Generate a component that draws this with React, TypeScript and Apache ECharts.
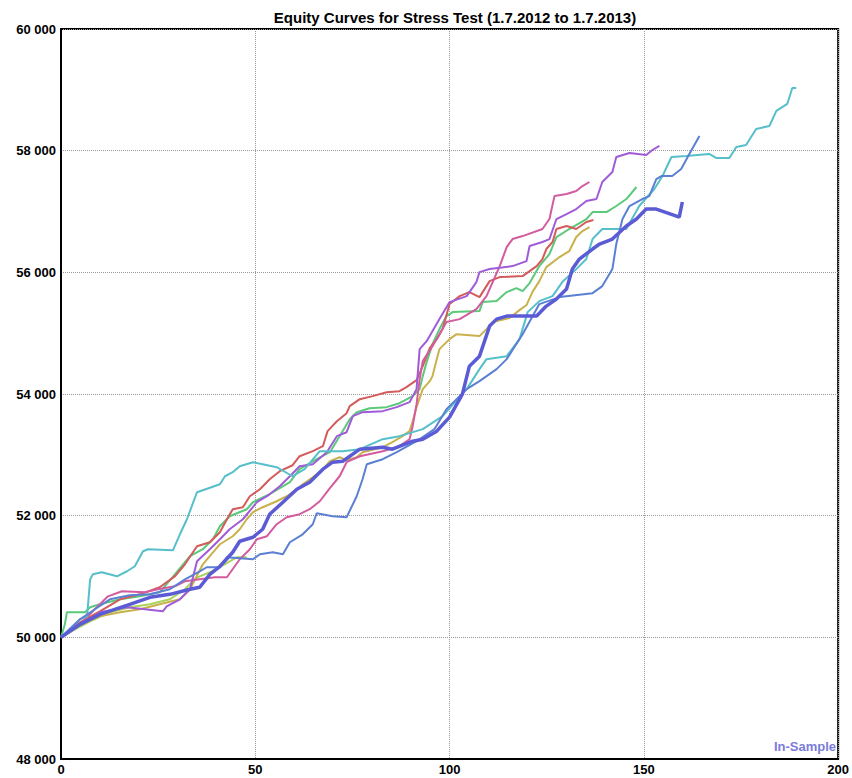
import React, { useEffect, useRef } from "react";
import * as echarts from "echarts";

const titleText = "Equity Curves for Stress Test (1.7.2012 to 1.7.2013)";
const xTicks = [0, 50, 100, 150, 200];
const yTicks = [48000, 50000, 52000, 54000, 56000, 58000, 60000];

const cyan = [[0,50000],[2.8,50165],[4.9,50300],[6.7,50345],[7.5,50950],[8.2,51036],[10.5,51070],[14.4,51003],[17,51086],[19,51168],[21.1,51415],[22.4,51448],[28.8,51431],[30.6,51694],[32.4,51941],[35,52385],[40.9,52517],[42.2,52648],[44.2,52714],[46,52813],[49.4,52879],[51.9,52846],[55.5,52797],[59.6,52648],[62.7,52764],[66.6,53060],[72.5,53060],[76.9,53093],[82.8,53257],[87.1,53307],[93.1,53422],[98.2,53636],[104.4,54080],[107.7,54409],[109.5,54573],[114.7,54622],[118,54902],[120.1,55346],[123.1,55527],[126.5,55609],[129,55840],[132.6,56053],[135.2,56218],[136.8,56547],[139.3,56712],[145.5,56712],[148.8,57090],[152.7,57370],[154.8,57583],[157.1,57896],[160.9,57913],[166.8,57946],[168.6,57880],[172,57880],[173.8,58061],[176.3,58093],[178.9,58357],[182.3,58406],[184.1,58653],[186.9,58768],[188.2,59031],[189.2,59031]];

const steelBlue = [[0,50000],[4.9,50296],[8.7,50461],[12.6,50625],[17.7,50691],[22.9,50707],[28,50790],[31.9,50954],[35.7,51086],[37.5,51152],[40.9,51152],[42.7,51316],[49.4,51283],[51.2,51366],[54.5,51398],[57.1,51366],[58.9,51563],[62.2,51694],[64.8,51859],[65.8,52040],[69.9,51991],[73.5,51974],[76.1,52320],[77.6,52599],[78.7,52846],[82.8,52928],[86.4,53043],[91.5,53224],[96.1,53422],[99.2,53751],[104.4,54080],[107.7,54211],[112.1,54409],[114.7,54573],[118.8,54984],[123.1,55478],[128.3,55593],[136.8,55658],[139.3,55774],[141.9,56054],[142.9,56465],[144.5,56876],[146.3,57090],[149.6,57205],[151.4,57254],[153.2,57534],[154.5,57583],[157.3,57583],[159.6,57698],[161.7,57946],[164.3,58241]];

const indigo = [[0,50000],[4.9,50214],[10,50378],[17.7,50543],[22.9,50658],[28,50707],[33.2,50790],[35.7,50823],[38.3,51036],[40.9,51168],[44.2,51398],[46,51579],[49.4,51645],[51.9,51777],[53.7,52024],[57.1,52221],[60.7,52435],[64,52550],[67.4,52764],[69.9,52879],[72.5,52895],[76.9,53093],[82.8,53126],[85.3,53093],[90.5,53224],[93.1,53257],[96.7,53389],[100,53619],[103.3,53998],[105.1,54458],[107.7,54622],[110.3,55116],[112.1,55231],[114.7,55281],[122.4,55281],[124.9,55445],[127.5,55560],[130.1,55725],[131.6,56054],[133.4,56218],[136.8,56383],[138.6,56465],[141.9,56547],[145.5,56761],[148.1,56876],[150.6,57040],[153.2,57040],[158.4,56925],[159.1,56909],[159.9,57156]];

const purple = [[0,50000],[3.6,50165],[7.5,50296],[10,50411],[17,50494],[26.2,50428],[27.2,50510],[30.6,50625],[33.2,50790],[35,51250],[38.3,51448],[40.9,51612],[43.4,51777],[46.8,51941],[50.4,52221],[53,52320],[56.3,52484],[58.9,52648],[61.4,52813],[64.8,52846],[68.4,53043],[71,53307],[73.5,53372],[75.1,53636],[77.6,53701],[82.8,53718],[86.4,53784],[89.7,53866],[91.5,54080],[92.3,54738],[94.1,54869],[97.4,55231],[100,55511],[104.4,55609],[106.9,55840],[107.7,56004],[110.3,56054],[116.2,56103],[119.8,56185],[120.6,56432],[123.9,56498],[125.7,56547],[127.5,56876],[130.1,56958],[132.6,57040],[135.2,57172],[137.8,57205],[139.3,57485],[141.9,57649],[142.9,57896],[146.3,57962],[150.6,57929],[152.2,58011],[154,58077]];

const pink = [[0,50000],[4.9,50214],[8.7,50461],[12.1,50674],[15.7,50757],[21.6,50740],[24.9,50790],[29.3,50839],[31.9,50921],[35.7,50954],[39.6,50987],[42.7,50987],[46,51283],[48.6,51448],[50.4,51612],[53,51662],[55.5,51859],[58.1,51974],[61.4,52024],[64,52106],[66.6,52237],[69.2,52451],[71.7,52648],[73.5,52879],[76.9,52977],[82.8,53060],[87.1,53142],[89.7,53257],[90.5,53471],[91.5,53833],[92.3,54244],[93.1,54540],[95.6,54787],[97.4,54984],[99.2,55182],[102.6,55231],[106.9,55396],[109.5,55609],[111.1,55840],[112.9,56103],[114.7,56415],[116.2,56547],[118.8,56596],[123.9,56712],[125.7,56876],[127,57254],[130.1,57287],[132.6,57337],[134.2,57419],[136,57485]];

const red = [[0,50000],[4.9,50247],[10,50428],[15.2,50625],[20.3,50707],[25.4,50823],[29.3,51003],[31.9,51201],[35,51497],[38.3,51563],[40.9,51727],[42.7,51941],[44.2,52106],[46.8,52139],[48.6,52320],[51.2,52435],[53.7,52599],[56.3,52731],[59.6,52829],[61.4,52977],[64.8,53060],[67.4,53142],[68.6,53389],[71,53553],[73.5,53685],[74.3,53800],[76.9,53915],[80.2,53965],[83.8,54030],[87.1,54047],[88.9,54113],[91.5,54228],[93.1,54458],[94.9,54754],[96.7,54902],[98.2,55067],[100,55478],[102.6,55609],[105.1,55675],[107.7,55593],[110.3,55856],[112.9,55922],[118.8,55938],[122.4,56103],[123.9,56218],[124.9,56383],[126.5,56498],[127.5,56712],[130.1,56761],[132.6,56712],[135.2,56827],[137,56860]];

const green = [[0,50000],[1,50214],[1.5,50411],[6.2,50411],[7.5,50494],[10,50543],[15.2,50625],[20.3,50674],[25.4,50740],[29.3,51036],[31.9,51234],[33.2,51333],[36.5,51448],[39.1,51612],[40.9,51826],[43.4,51991],[47.8,52106],[49.4,52221],[53.7,52352],[56.3,52451],[58.9,52550],[61.4,52764],[65.8,52928],[69.2,53043],[71.7,53307],[74.3,53586],[76.1,53701],[79.4,53767],[83.8,53784],[87.1,53849],[90.5,53965],[92.3,54080],[93.1,54294],[94.1,54524],[95.6,54820],[97.4,55067],[99.2,55281],[100.8,55346],[107.7,55363],[108.5,55511],[112.1,55527],[114.7,55675],[117.2,55741],[118.8,55692],[120.6,55823],[123.1,56103],[125.7,56300],[127.5,56580],[130.8,56712],[135.2,56876],[136.8,56991],[140.4,56991],[142.9,57090],[145.5,57205],[148.1,57403]];

const yellow = [[0,50000],[4.9,50214],[10,50345],[15.2,50411],[20.3,50461],[25.4,50543],[30.6,50625],[33.2,50790],[36.5,51201],[39.1,51398],[40.9,51530],[44.2,51662],[46,51777],[47.8,51941],[49.4,52056],[51.9,52139],[55.5,52237],[58.1,52320],[60.7,52435],[62.2,52517],[64.8,52632],[67.4,52764],[69.2,52895],[71.7,52961],[73.5,52912],[76.1,52961],[77.6,53043],[82.8,53126],[85.3,53208],[87.9,53307],[89.7,53389],[90.5,53553],[91.5,53784],[93.1,54080],[94.9,54211],[95.6,54294],[96.7,54573],[97.4,54738],[100,54902],[101.8,54984],[107.7,54952],[109.5,55067],[111.1,55182],[115.4,55248],[118,55379],[119.8,55462],[121.3,55675],[123.1,55856],[124.9,56086],[128.3,56251],[130.8,56350],[132.6,56580],[134.2,56679],[136,56745]];

const lightGreen = [[0,50000],[3.6,50132],[7.5,50263],[12.6,50411],[17.7,50494],[22.9,50543],[28,50625],[31.9,50790],[34.4,50954],[35.7,51003],[38.3,51069],[40.9,51152],[43.4,51250],[45.2,51316],[47.8,51316]];

const seriesDefs = [
  { name: "S1", data: lightGreen, color: "#a9d35c", width: 2 },
  { name: "S2", data: yellow, color: "#c9b14c", width: 2 },
  { name: "S3", data: green, color: "#5bc97a", width: 2 },
  { name: "S4", data: red, color: "#d35b5b", width: 2 },
  { name: "S5", data: pink, color: "#d35c9f", width: 2 },
  { name: "S6", data: purple, color: "#a05cd8", width: 2 },
  { name: "S7", data: cyan, color: "#57bfca", width: 2 },
  { name: "S8", data: steelBlue, color: "#5b80d3", width: 2 },
  { name: "S9", data: indigo, color: "#5b5bd6", width: 3.5 },
];

const fmt = (v: number) => {
  const s = String(Math.round(v));
  return s.length > 3 ? s.slice(0, s.length - 3) + " " + s.slice(-3) : s;
};

export default function App() {
  const ref = useRef<HTMLDivElement>(null);
  useEffect(() => {
    if (!ref.current) return;
    const chart = echarts.init(ref.current, undefined, { renderer: "svg" });
    const font = "'Liberation Sans', Arial, sans-serif";
    chart.setOption({
      animation: false,
      backgroundColor: "#ffffff",
      title: {
        text: titleText,
        left: 450,
        textAlign: "center",
        top: 5,
        textStyle: { fontFamily: font, fontSize: 15, fontWeight: "bold", color: "#000" },
      },
      grid: {
        left: 61,
        right: 13,
        top: 29,
        bottom: 19,
        show: true,
        borderColor: "#000",
        borderWidth: 2,
        backgroundColor: "#fff",
      },
      xAxis: {
        type: "value",
        min: xTicks[0],
        max: xTicks[xTicks.length - 1],
        interval: 50,
        axisLine: { show: true, lineStyle: { color: "#000", width: 2 } },
        axisTick: { show: false },
        axisLabel: { fontFamily: font, fontSize: 13, fontWeight: "bold", color: "#000", margin: 4 },
        splitLine: { show: true, lineStyle: { type: "dotted", color: "#999", width: 1 } },
      },
      yAxis: {
        type: "value",
        min: yTicks[0],
        max: yTicks[yTicks.length - 1],
        interval: 2000,
        axisLine: { show: true, lineStyle: { color: "#000", width: 2 } },
        axisTick: { show: false },
        axisLabel: { fontFamily: font, fontSize: 13, fontWeight: "bold", color: "#000", margin: 5, formatter: fmt },
        splitLine: { show: true, lineStyle: { type: "dotted", color: "#999", width: 1 } },
      },
      graphic: [
        {
          type: "text",
          right: 16,
          bottom: 25,
          style: { text: "In-Sample", fill: "#7b7bd9", font: "bold 13px 'Liberation Sans', Arial, sans-serif" },
        },
      ],
      series: seriesDefs.map((s) => ({
        name: s.name,
        type: "line",
        data: s.data,
        showSymbol: false,
        symbol: "none",
        lineStyle: { color: s.color, width: s.width },
        itemStyle: { color: s.color },
        emphasis: { disabled: true },
      })),
    });
    return () => chart.dispose();
  }, []);
  return <div ref={ref} style={{ position: "fixed", left: 0, top: 0, width: 852, height: 778 }} />;
}
